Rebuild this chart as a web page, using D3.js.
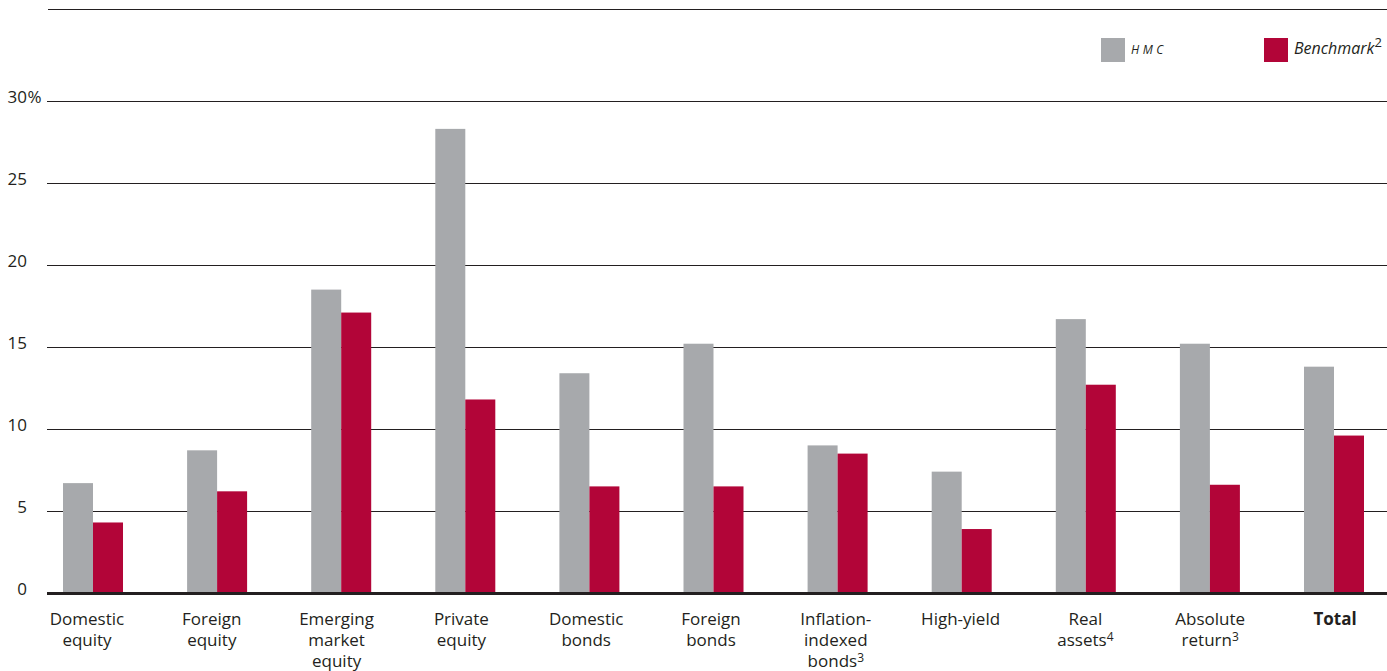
<!DOCTYPE html>
<html>
<head>
<meta charset="utf-8">
<script src="https://cdn.jsdelivr.net/npm/d3@7"></script>
<style>
  body { margin: 0; background: #fff; }
  svg text { font-family: "Open Sans", sans-serif; fill: #231f20; }
</style>
</head>
<body>
<svg id="chart" width="1387" height="671"></svg>
<script>
// categories, each label line; sup = footnote mark on the last line
const categories = [
  { key: "domeq",  lines: ["Domestic", "equity"] },
  { key: "foreq",  lines: ["Foreign", "equity"] },
  { key: "emeq",   lines: ["Emerging", "market", "equity"] },
  { key: "priv",   lines: ["Private", "equity"] },
  { key: "dombd",  lines: ["Domestic", "bonds"] },
  { key: "forbd",  lines: ["Foreign", "bonds"] },
  { key: "infl",   lines: ["Inflation-", "indexed", "bonds"], sup: "3" },
  { key: "hy",     lines: ["High-yield"] },
  { key: "real",   lines: ["Real", "assets"], sup: "4" },
  { key: "absret", lines: ["Absolute", "return"], sup: "3" },
  { key: "total",  lines: ["Total"], bold: true }
];

const series = ["HMC", "Benchmark"];
const hmcValues       = [6.7, 8.7, 18.5, 28.3, 13.4, 15.2, 9.0, 7.4, 16.7, 15.2, 13.8];
const benchmarkValues = [4.3, 6.2, 17.1, 11.8, 6.5, 6.5, 8.5, 3.9, 12.7, 6.6, 9.6];
const yTicks = [0, 5, 10, 15, 20, 25, 30];

const colors = { HMC: "#a7a9ac", Benchmark: "#b20538" };
const ink = "#231f20";

const svg = d3.select("#chart");

const x0 = d3.scaleBand()
  .domain(categories.map(d => d.key))
  .range([63, 1364])
  .paddingInner(0.5165)
  .paddingOuter(0);

const x1 = d3.scaleBand()
  .domain(series)
  .range([0, x0.bandwidth()]);

// category labels sit on their own slightly wider spacing
const xLabel = d3.scalePoint()
  .domain(categories.map(d => d.key))
  .range([87, 1335]);

const y = d3.scaleLinear()
  .domain([0, 30])
  .range([593, 101]);

// top rule
svg.append("line")
  .attr("x1", 48).attr("x2", 1387)
  .attr("y1", 9.5).attr("y2", 9.5)
  .attr("stroke", ink).attr("stroke-width", 1);

// gridlines
const grid = svg.append("g");
grid.selectAll("line")
  .data(yTicks.filter(t => t > 0))
  .join("line")
  .attr("x1", 47).attr("x2", 1387)
  .attr("y1", d => Math.round(y(d)) + 0.5)
  .attr("y2", d => Math.round(y(d)) + 0.5)
  .attr("stroke", ink).attr("stroke-width", 1);

// y labels
const yLab = svg.append("g").attr("font-size", 17);
yLab.selectAll("text")
  .data(yTicks)
  .join("text")
  .attr("x", 27)
  .attr("y", d => y(d) + 2)
  .attr("text-anchor", "end")
  .text(d => d);
yLab.append("text")
  .attr("x", 27.5)
  .attr("y", y(30) + 2)
  .text("%");

// bars
const rows = categories.map((c, i) => ({
  key: c.key,
  vals: [
    { s: "HMC", v: hmcValues[i] },
    { s: "Benchmark", v: benchmarkValues[i] }
  ]
}));

svg.append("g")
  .selectAll("g")
  .data(rows)
  .join("g")
  .attr("transform", d => `translate(${x0(d.key)},0)`)
  .selectAll("rect")
  .data(d => d.vals)
  .join("rect")
  .attr("x", d => x1(d.s))
  .attr("width", x1.bandwidth())
  .attr("y", d => y(d.v))
  .attr("height", d => y(0) - y(d.v))
  .attr("fill", d => colors[d.s]);

// baseline
svg.append("line")
  .attr("x1", 47).attr("x2", 1387)
  .attr("y1", y(0) + 0.5).attr("y2", y(0) + 0.5)
  .attr("stroke", ink).attr("stroke-width", 3);

// x labels
const xLab = svg.append("g").attr("font-size", 17).attr("text-anchor", "middle");
categories.forEach(c => {
  const cx = xLabel(c.key);
  const t = xLab.append("text")
    .attr("x", cx)
    .attr("y", 625)
    .attr("font-weight", c.bold ? 700 : 400);
  c.lines.forEach((ln, j) => {
    const ts = t.append("tspan")
      .attr("x", cx)
      .attr("dy", j === 0 ? 0 : 21)
      .text(ln);
    if (c.sup && j === c.lines.length - 1) {
      ts.append("tspan")
        .attr("font-size", 12)
        .attr("dy", -5)
        .text(c.sup);
    }
  });
});

// legend
const legend = svg.append("g");
legend.append("rect").attr("x", 1101).attr("y", 38).attr("width", 24).attr("height", 24).attr("fill", colors.HMC);
legend.append("text")
  .attr("x", 1131).attr("y", 54)
  .attr("font-size", 12).attr("font-style", "italic")
  .attr("letter-spacing", 3.5)
  .text("HMC");
legend.append("rect").attr("x", 1264).attr("y", 38).attr("width", 24).attr("height", 24).attr("fill", colors.Benchmark);
const bt = legend.append("text")
  .attr("x", 1294).attr("y", 54)
  .attr("font-size", 16).attr("font-style", "italic")
  .text("Benchmark");
bt.append("tspan").attr("font-size", 13).attr("dy", -7).attr("font-style", "normal").text("2");
</script>
</body>
</html>
